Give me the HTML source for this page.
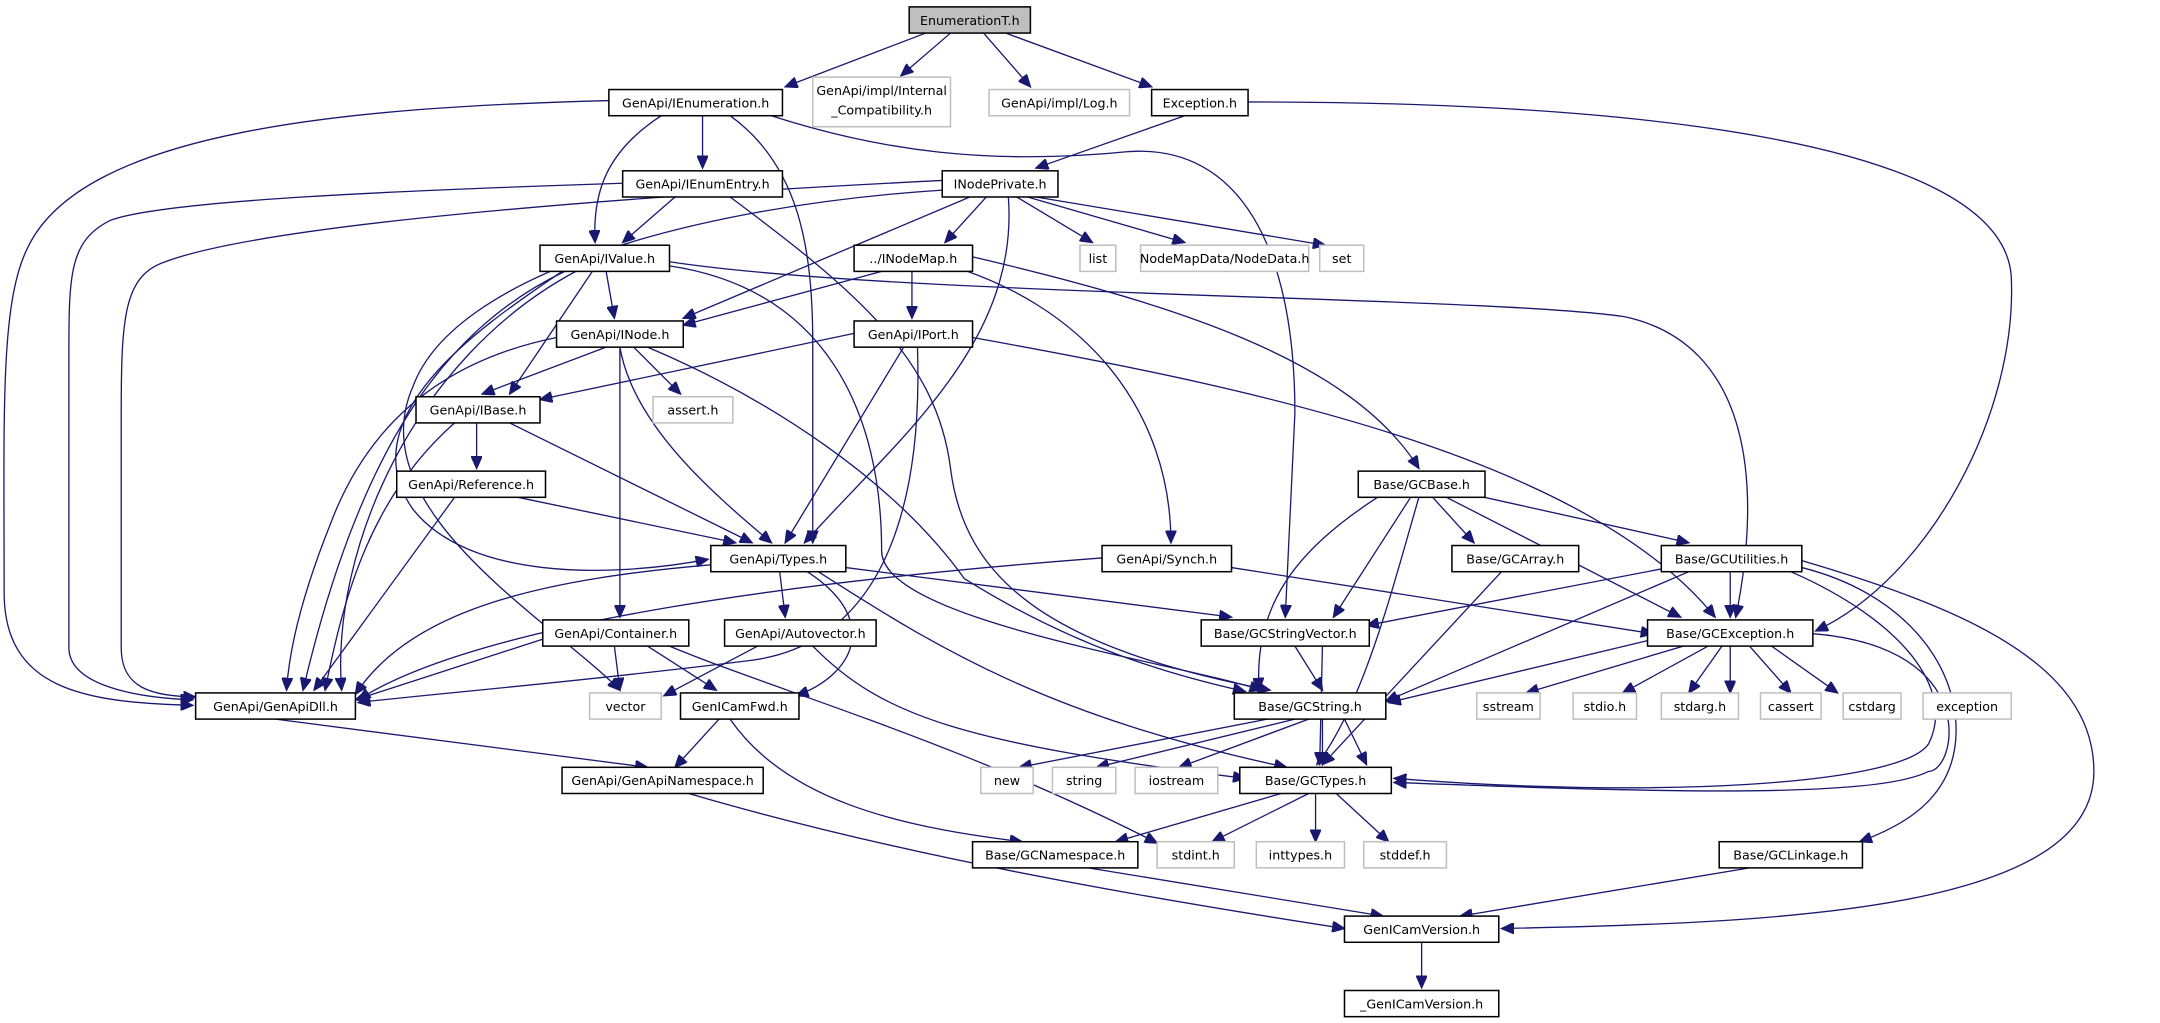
<!DOCTYPE html>
<html><head><meta charset="utf-8"><style>
html,body{margin:0;padding:0;background:#fff;}
svg{display:block;}
text{font-family:"DejaVu Sans","Liberation Sans",sans-serif;font-size:9.2px;fill:#000;}
.n rect{fill:#fff;stroke:#000;stroke-width:1.1;}
.g rect{fill:#fff;stroke:#bfbfbf;stroke-width:1.1;}
.e path{fill:none;stroke:#191970;stroke-width:0.95;marker-end:url(#a);}
</style></head><body>
<svg width="2160" height="1023" viewBox="0 0 1568 742.6" preserveAspectRatio="none" xmlns="http://www.w3.org/2000/svg">
<defs><marker id="a" markerUnits="userSpaceOnUse" markerWidth="10" markerHeight="8" refX="9" refY="4" orient="auto"><path d="M0,0 L9,4 L0,8 z" fill="#191970" stroke="#191970"/></marker></defs>
<g class="e">
<path d="M672,24 L570,63"/>
<path d="M690,24 L654,55"/>
<path d="M714,24 L748,63"/>
<path d="M730,24 L836,63"/>
<path d="M442,73 C250,78 60,95 20,180 C0,220 3,300 3,430 C3,500 60,510 140,512"/>
<path d="M510,84 L510,122"/>
<path d="M480,84 C440,110 430,140 432,176"/>
<path d="M530,84 C580,120 590,180 590,250 L590,394"/>
<path d="M560,84 C640,110 720,120 820,110 C900,105 940,180 940,300 L933,448"/>
<path d="M860,84 L752,122"/>
<path d="M906,74 C1050,74 1450,80 1460,200 C1465,300 1400,420 1318,458"/>
<path d="M452,133 C300,138 120,145 80,160 C50,175 50,200 50,260 L50,470 C50,495 90,506 140,508"/>
<path d="M490,143 L452,176"/>
<path d="M530,143 C620,210 680,260 690,340 C700,420 760,470 922,501"/>
<path d="M684,131 C500,140 200,160 120,190 C90,200 88,230 88,300 L88,470 C88,500 110,505 142,506"/>
<path d="M684,138 C500,150 330,200 300,280 C260,370 400,450 450,501"/>
<path d="M704,143 L496,231"/>
<path d="M716,143 L686,176"/>
<path d="M738,143 L793,176"/>
<path d="M746,143 L860,176"/>
<path d="M752,143 L962,178"/>
<path d="M732,143 C740,250 650,320 584,394"/>
<path d="M440,197 L446,231"/>
<path d="M430,197 L370,286"/>
<path d="M410,197 C320,240 260,330 220,501"/>
<path d="M418,197 C300,260 240,400 248,501"/>
<path d="M408,197 C360,230 250,300 300,370 C340,420 440,420 514,406"/>
<path d="M486,193 C600,210 640,300 640,400 C640,450 850,480 916,501"/>
<path d="M486,190 C650,215 1080,215 1180,230 C1270,250 1280,350 1260,448"/>
<path d="M640,197 L496,236"/>
<path d="M662,197 L662,231"/>
<path d="M680,190 C790,220 850,300 850,394"/>
<path d="M700,185 C850,220 980,260 1030,340"/>
<path d="M440,252 L350,286"/>
<path d="M460,252 L494,286"/>
<path d="M450,252 C460,310 520,360 560,394"/>
<path d="M450,252 L450,448"/>
<path d="M470,252 C560,290 650,350 700,420 C780,470 850,490 904,502"/>
<path d="M404,245 C330,260 270,300 240,380 C220,430 210,470 208,501"/>
<path d="M620,242 L392,290"/>
<path d="M656,252 L570,394"/>
<path d="M706,245 C900,280 1150,330 1245,448"/>
<path d="M666,252 C670,370 640,470 540,480 C420,495 300,505 260,510"/>
<path d="M346,307 L346,340"/>
<path d="M370,307 L546,394"/>
<path d="M330,307 C270,360 250,430 236,501"/>
<path d="M376,361 L534,394"/>
<path d="M330,361 L228,501"/>
<path d="M1000,361 C940,400 910,440 914,501"/>
<path d="M1024,361 L968,448"/>
<path d="M1030,361 C1010,430 990,510 956,555"/>
<path d="M1040,361 L1070,394"/>
<path d="M1050,361 L1220,448"/>
<path d="M1064,358 L1226,394"/>
<path d="M516,410 C400,420 300,440 258,504"/>
<path d="M566,415 L570,448"/>
<path d="M614,412 L894,448"/>
<path d="M586,415 C640,450 620,490 578,505"/>
<path d="M594,415 C680,470 760,520 934,557"/>
<path d="M800,405 C600,420 350,450 260,508"/>
<path d="M894,412 L1200,460"/>
<path d="M1090,415 L960,555"/>
<path d="M1206,413 L992,454"/>
<path d="M1226,415 L1006,509"/>
<path d="M1256,415 L1256,448"/>
<path d="M1300,415 C1380,450 1420,500 1400,540 C1380,570 1200,580 1012,565"/>
<path d="M1308,412 C1380,430 1420,480 1420,530 C1420,580 1380,600 1350,611"/>
<path d="M1308,407 C1420,440 1520,480 1520,560 C1520,660 1300,670 1090,674"/>
<path d="M400,462 L258,508"/>
<path d="M446,469 L450,501"/>
<path d="M470,469 L520,501"/>
<path d="M486,469 C560,500 700,540 840,612"/>
<path d="M550,469 L482,505"/>
<path d="M590,469 C640,520 700,540 904,565"/>
<path d="M940,469 L960,501"/>
<path d="M960,469 L958,555"/>
<path d="M1196,465 L1008,510"/>
<path d="M1222,469 L1108,503"/>
<path d="M1240,469 L1178,503"/>
<path d="M1250,469 L1226,503"/>
<path d="M1256,469 L1256,503"/>
<path d="M1270,469 L1300,503"/>
<path d="M1286,469 L1334,503"/>
<path d="M1316,460 C1440,470 1420,560 1400,560 C1360,580 1200,575 1012,568"/>
<path d="M200,522 L470,557"/>
<path d="M522,522 L490,557"/>
<path d="M530,522 C570,580 650,600 742,611"/>
<path d="M920,522 L740,557"/>
<path d="M940,522 L796,557"/>
<path d="M950,522 L856,557"/>
<path d="M960,522 L960,555"/>
<path d="M976,522 L992,555"/>
<path d="M500,576 C650,620 820,650 976,674"/>
<path d="M930,576 L810,611"/>
<path d="M950,576 L880,611"/>
<path d="M955,576 L955,611"/>
<path d="M970,576 L1008,611"/>
<path d="M790,630 L1004,665"/>
<path d="M1270,630 L1060,665"/>
<path d="M1032,684 L1032,717"/>
</g>
<g class="n"><rect x="660" y="5" width="88" height="19" style="fill:#bfbfbf"/><text x="704" y="18" text-anchor="middle">EnumerationT.h</text></g>
<g class="n"><rect x="442" y="65" width="126" height="19"/><text x="505" y="78" text-anchor="middle">GenApi/IEnumeration.h</text></g>
<g class="g"><rect x="590" y="56" width="100" height="36"/><text x="640" y="69" text-anchor="middle">GenApi/impl/Internal</text><text x="640" y="83" text-anchor="middle">_Compatibility.h</text></g>
<g class="g"><rect x="718" y="65" width="102" height="19"/><text x="769" y="78" text-anchor="middle">GenApi/impl/Log.h</text></g>
<g class="n"><rect x="836" y="65" width="70" height="19"/><text x="871" y="78" text-anchor="middle">Exception.h</text></g>
<g class="n"><rect x="684" y="124" width="84" height="19"/><text x="726" y="137" text-anchor="middle">INodePrivate.h</text></g>
<g class="n"><rect x="452" y="124" width="116" height="19"/><text x="510" y="137" text-anchor="middle">GenApi/IEnumEntry.h</text></g>
<g class="g"><rect x="784" y="178" width="26" height="19"/><text x="797" y="191" text-anchor="middle">list</text></g>
<g class="g"><rect x="828" y="178" width="122" height="19"/><text x="889" y="191" text-anchor="middle">NodeMapData/NodeData.h</text></g>
<g class="g"><rect x="958" y="178" width="32" height="19"/><text x="974" y="191" text-anchor="middle">set</text></g>
<g class="n"><rect x="392" y="178" width="94" height="19"/><text x="439" y="191" text-anchor="middle">GenApi/IValue.h</text></g>
<g class="n"><rect x="620" y="178" width="86" height="19"/><text x="663" y="191" text-anchor="middle">../INodeMap.h</text></g>
<g class="n"><rect x="404" y="233" width="92" height="19"/><text x="450" y="246" text-anchor="middle">GenApi/INode.h</text></g>
<g class="n"><rect x="620" y="233" width="86" height="19"/><text x="663" y="246" text-anchor="middle">GenApi/IPort.h</text></g>
<g class="n"><rect x="302" y="288" width="90" height="19"/><text x="347" y="301" text-anchor="middle">GenApi/IBase.h</text></g>
<g class="g"><rect x="474" y="288" width="58" height="19"/><text x="503" y="301" text-anchor="middle">assert.h</text></g>
<g class="n"><rect x="288" y="342" width="108" height="19"/><text x="342" y="355" text-anchor="middle">GenApi/Reference.h</text></g>
<g class="n"><rect x="986" y="342" width="92" height="19"/><text x="1032" y="355" text-anchor="middle">Base/GCBase.h</text></g>
<g class="n"><rect x="516" y="396" width="98" height="19"/><text x="565" y="409" text-anchor="middle">GenApi/Types.h</text></g>
<g class="n"><rect x="800" y="396" width="94" height="19"/><text x="847" y="409" text-anchor="middle">GenApi/Synch.h</text></g>
<g class="n"><rect x="1054" y="396" width="92" height="19"/><text x="1100" y="409" text-anchor="middle">Base/GCArray.h</text></g>
<g class="n"><rect x="1206" y="396" width="102" height="19"/><text x="1257" y="409" text-anchor="middle">Base/GCUtilities.h</text></g>
<g class="n"><rect x="394" y="450" width="106" height="19"/><text x="447" y="463" text-anchor="middle">GenApi/Container.h</text></g>
<g class="n"><rect x="526" y="450" width="110" height="19"/><text x="581" y="463" text-anchor="middle">GenApi/Autovector.h</text></g>
<g class="n"><rect x="872" y="450" width="122" height="19"/><text x="933" y="463" text-anchor="middle">Base/GCStringVector.h</text></g>
<g class="n"><rect x="1196" y="450" width="120" height="19"/><text x="1256" y="463" text-anchor="middle">Base/GCException.h</text></g>
<g class="n"><rect x="142" y="503" width="116" height="19"/><text x="200" y="516" text-anchor="middle">GenApi/GenApiDll.h</text></g>
<g class="g"><rect x="428" y="503" width="52" height="19"/><text x="454" y="516" text-anchor="middle">vector</text></g>
<g class="n"><rect x="494" y="503" width="86" height="19"/><text x="537" y="516" text-anchor="middle">GenICamFwd.h</text></g>
<g class="n"><rect x="896" y="503" width="110" height="19"/><text x="951" y="516" text-anchor="middle">Base/GCString.h</text></g>
<g class="g"><rect x="1072" y="503" width="46" height="19"/><text x="1095" y="516" text-anchor="middle">sstream</text></g>
<g class="g"><rect x="1142" y="503" width="46" height="19"/><text x="1165" y="516" text-anchor="middle">stdio.h</text></g>
<g class="g"><rect x="1206" y="503" width="56" height="19"/><text x="1234" y="516" text-anchor="middle">stdarg.h</text></g>
<g class="g"><rect x="1278" y="503" width="44" height="19"/><text x="1300" y="516" text-anchor="middle">cassert</text></g>
<g class="g"><rect x="1338" y="503" width="42" height="19"/><text x="1359" y="516" text-anchor="middle">cstdarg</text></g>
<g class="g"><rect x="1396" y="503" width="64" height="19"/><text x="1428" y="516" text-anchor="middle">exception</text></g>
<g class="n"><rect x="408" y="557" width="146" height="19"/><text x="481" y="570" text-anchor="middle">GenApi/GenApiNamespace.h</text></g>
<g class="g"><rect x="712" y="557" width="38" height="19"/><text x="731" y="570" text-anchor="middle">new</text></g>
<g class="g"><rect x="764" y="557" width="46" height="19"/><text x="787" y="570" text-anchor="middle">string</text></g>
<g class="g"><rect x="824" y="557" width="60" height="19"/><text x="854" y="570" text-anchor="middle">iostream</text></g>
<g class="n"><rect x="900" y="557" width="110" height="19"/><text x="955" y="570" text-anchor="middle">Base/GCTypes.h</text></g>
<g class="n"><rect x="706" y="611" width="120" height="19"/><text x="766" y="624" text-anchor="middle">Base/GCNamespace.h</text></g>
<g class="g"><rect x="840" y="611" width="56" height="19"/><text x="868" y="624" text-anchor="middle">stdint.h</text></g>
<g class="g"><rect x="912" y="611" width="64" height="19"/><text x="944" y="624" text-anchor="middle">inttypes.h</text></g>
<g class="g"><rect x="990" y="611" width="60" height="19"/><text x="1020" y="624" text-anchor="middle">stddef.h</text></g>
<g class="n"><rect x="1248" y="611" width="104" height="19"/><text x="1300" y="624" text-anchor="middle">Base/GCLinkage.h</text></g>
<g class="n"><rect x="976" y="665" width="112" height="19"/><text x="1032" y="678" text-anchor="middle">GenICamVersion.h</text></g>
<g class="n"><rect x="976" y="719" width="112" height="19"/><text x="1032" y="732" text-anchor="middle">_GenICamVersion.h</text></g>
</svg>
</body></html>
